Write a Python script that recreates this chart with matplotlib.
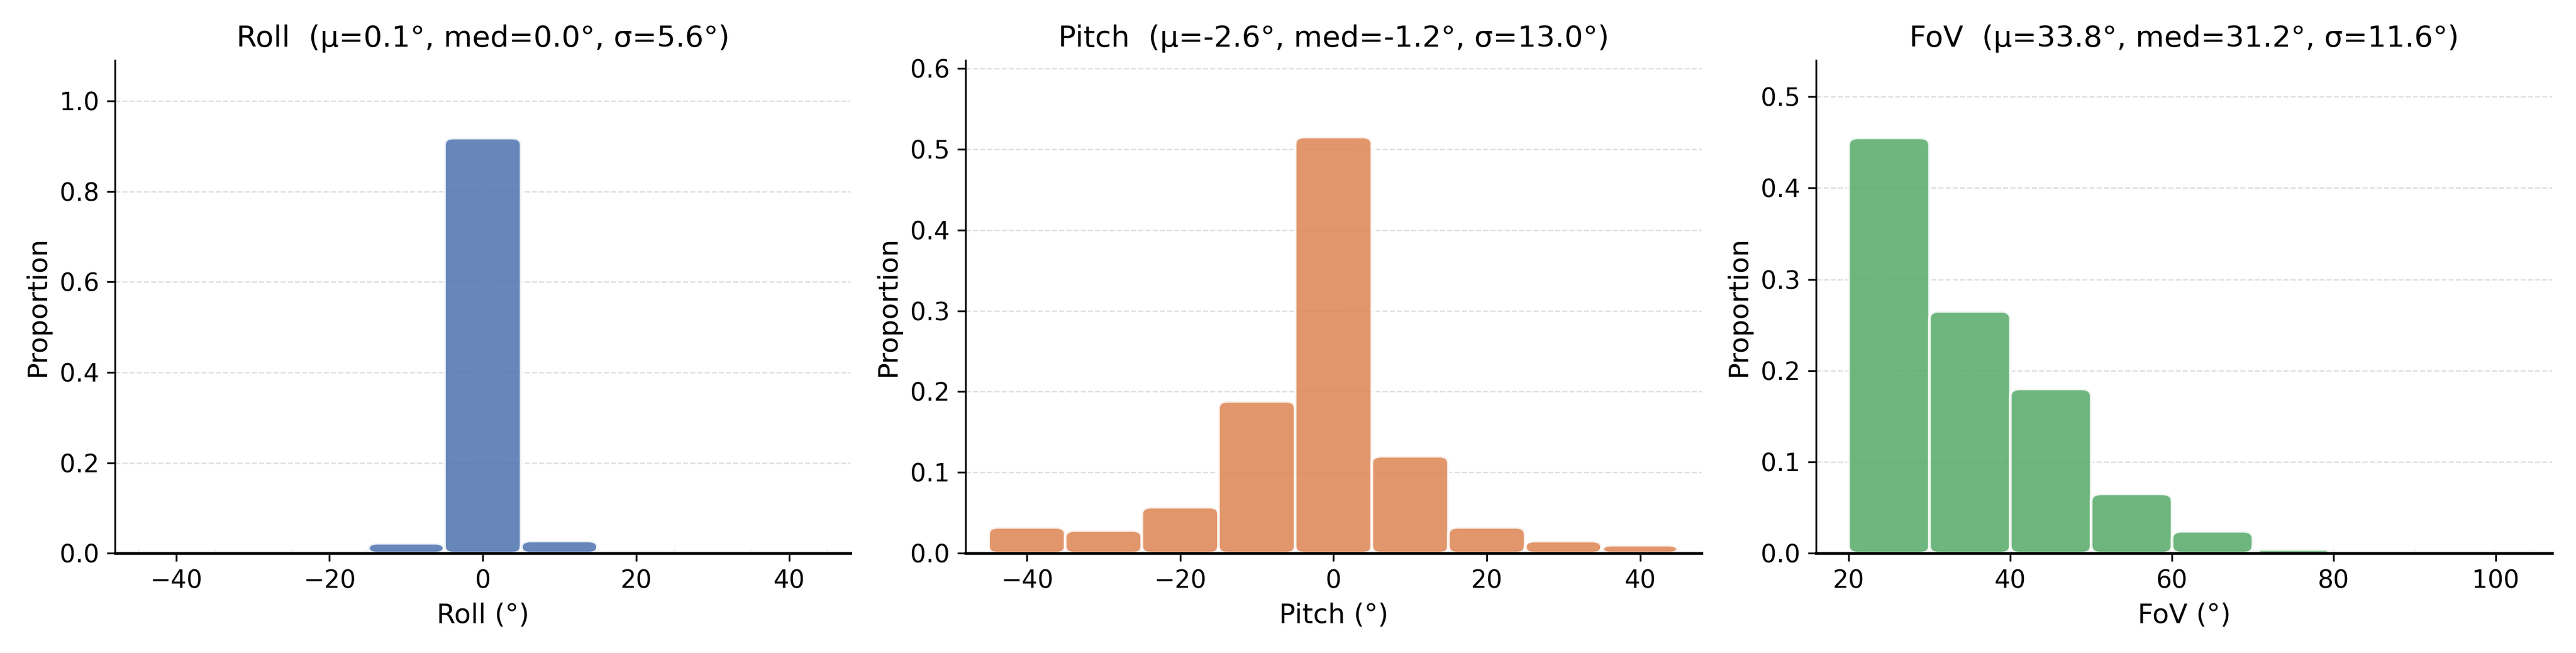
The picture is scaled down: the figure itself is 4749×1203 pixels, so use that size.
import matplotlib
matplotlib.use("Agg")
import matplotlib.pyplot as plt
from matplotlib.patches import FancyBboxPatch

roll_edges = [-45, -35, -25, -15, -5, 5, 15, 25, 35, 45]
roll_vals = [0.002, 0.001, 0.003, 0.022, 0.918, 0.027, 0.004, 0.001, 0.003]
pitch_edges = [-45, -35, -25, -15, -5, 5, 15, 25, 35, 45]
pitch_vals = [0.032, 0.028, 0.057, 0.188, 0.515, 0.120, 0.032, 0.015, 0.010]
fov_edges = [20, 30, 40, 50, 60, 70, 80, 90, 100, 105]
fov_vals = [0.455, 0.265, 0.180, 0.065, 0.024, 0.004, 0.0006, 0.0005, 0.0005]

titles = ["Roll  (μ=0.1°, med=0.0°, σ=5.6°)",
          "Pitch  (μ=-2.6°, med=-1.2°, σ=13.0°)",
          "FoV  (μ=33.8°, med=31.2°, σ=11.6°)"]
xlabels = ["Roll (°)", "Pitch (°)", "FoV (°)"]
colors = ["#4c72b0", "#dd8452", "#55a868"]
xlims = [(-48, 48), (-48, 48), (16, 107)]
ylims = [(0, 1.09), (0, 0.61), (0, 0.54)]
yticks = [[0, 0.2, 0.4, 0.6, 0.8, 1.0], [0, 0.1, 0.2, 0.3, 0.4, 0.5, 0.6],
          [0, 0.1, 0.2, 0.3, 0.4, 0.5]]
xticks = [[-40, -20, 0, 20, 40], [-40, -20, 0, 20, 40], [20, 40, 60, 80, 100]]

plt.rcParams['font.family'] = ['DejaVu Sans']
fig, axes = plt.subplots(1, 3, figsize=(15.833, 4.01), dpi=300)
data = [(roll_edges, roll_vals), (pitch_edges, pitch_vals), (fov_edges, fov_vals)]
for i, ax in enumerate(axes):
    edges, vals = data[i]
    ax.set_xlim(*xlims[i]); ax.set_ylim(*ylims[i])
    fig.canvas.draw()
    bb = ax.get_window_extent()
    xr = xlims[i][1] - xlims[i][0]; yr = ylims[i][1] - ylims[i][0]
    aspect = (yr / bb.height) / (xr / bb.width)
    for j, v in enumerate(vals):
        x0 = edges[j]; w = edges[j+1] - edges[j]
        rs = min(1.2, w * 0.15)
        p = FancyBboxPatch((x0, 0), w, v,
                           boxstyle=f"round,pad=0,rounding_size={rs}",
                           mutation_aspect=aspect, facecolor=colors[i],
                           edgecolor="white", linewidth=1.2, alpha=0.85, zorder=2)
        ax.add_patch(p)
    ax.set_title(titles[i], fontsize=13)
    ax.set_xlabel(xlabels[i], fontsize=12)
    ax.set_ylabel("Proportion", fontsize=12)
    ax.set_xticks(xticks[i]); ax.set_yticks(yticks[i])
    ax.tick_params(labelsize=11)
    ax.grid(axis='y', linestyle='--', color='#dddddd', linewidth=0.6, zorder=0)
    ax.set_axisbelow(True)
    ax.spines['top'].set_visible(False); ax.spines['right'].set_visible(False)
    ax.spines['bottom'].set_linewidth(1.2)

fig.tight_layout()
fig.savefig("out.png", dpi=300)
